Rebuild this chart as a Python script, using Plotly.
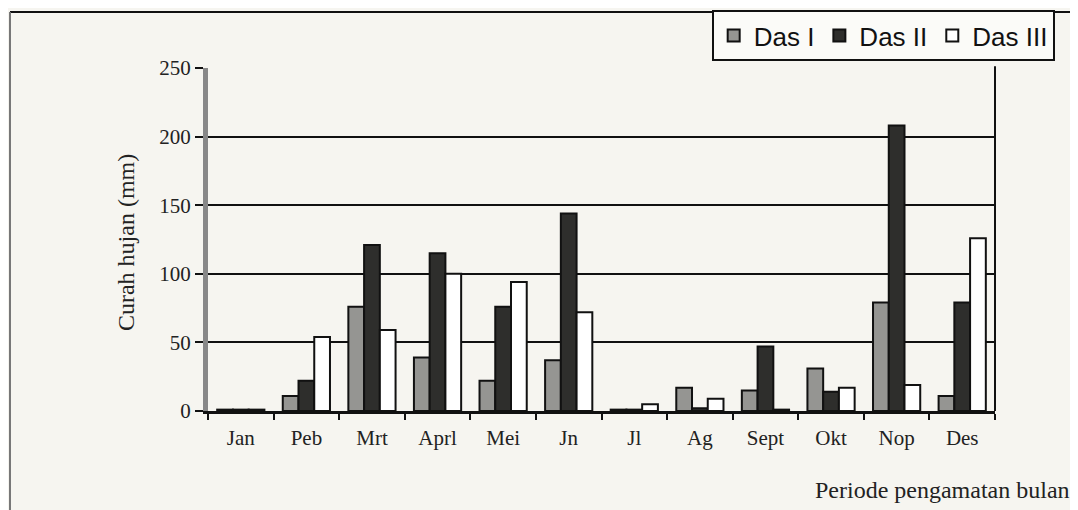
import plotly.graph_objects as go

month_labels = ["Jan", "Peb", "Mrt", "Aprl", "Mei", "Jn", "Jl", "Ag", "Sept", "Okt", "Nop", "Des"]
das1 = [1, 11, 76, 39, 22, 37, 1, 17, 15, 31, 79, 11]
das2 = [1, 22, 121, 115, 76, 144, 1, 2, 47, 14, 208, 79]
das3 = [1, 54, 59, 100, 94, 72, 5, 9, 1, 17, 19, 126]
y_ticks = [0, 50, 100, 150, 200, 250]

bg = "#f6f5f0"
fig = go.Figure()
fig.add_trace(go.Bar(name="Das I", x=month_labels, y=das1,
                     marker=dict(color="#959592", line=dict(color="#111", width=2))))
fig.add_trace(go.Bar(name="Das II", x=month_labels, y=das2,
                     marker=dict(color="#2e2e2c", line=dict(color="#111", width=2))))
fig.add_trace(go.Bar(name="Das III", x=month_labels, y=das3,
                     marker=dict(color="#ffffff", line=dict(color="#111", width=2))))

fig.update_layout(
    width=1070, height=502,
    margin=dict(l=200, r=83, t=60, b=99, autoexpand=False),
    paper_bgcolor=bg, plot_bgcolor=bg,
    barmode="group", bargap=0.28, bargroupgap=0.0,
    font=dict(family="Liberation Serif", color="#222", size=21),
    legend=dict(orientation="h", x=0.640, y=1.169, xanchor="left", yanchor="top",
                bgcolor="#fbfbf8", bordercolor="#111", borderwidth=2,
                font=dict(family="Liberation Sans", size=26, color="#111"),
                itemwidth=30, traceorder="normal"),
    showlegend=True,
)
fig.update_xaxes(type="category", tickson="boundaries", ticks="outside", ticklen=6,
                 tickcolor="#111", tickwidth=1.5, showline=True, linecolor="#111",
                 linewidth=3, showgrid=False, ticklabelstandoff=6,
                 tickfont=dict(family="Liberation Serif", size=21, color="#222"))
fig.update_yaxes(range=[0, 250], tickvals=y_ticks, ticks="outside", ticklen=8,
                 tickcolor="#111", tickwidth=2, showgrid=True, gridcolor="#111",
                 gridwidth=2, showline=True, linecolor="#888", linewidth=5,
                 zeroline=False,
                 tickfont=dict(family="Liberation Serif", size=21, color="#222"))

fig.add_annotation(text="Curah hujan (mm)", xref="paper", yref="paper",
                   x=-0.104, y=0.49, xanchor="center", yanchor="middle",
                   textangle=-90, showarrow=False,
                   font=dict(family="Liberation Serif", size=24, color="#222"))
fig.add_annotation(text="Periode pengamatan bulan", xref="paper", yref="paper",
                   x=1.098, y=-0.23, xanchor="right", yanchor="middle", showarrow=False,
                   font=dict(family="Liberation Serif", size=24, color="#222"))

# frame lines
fig.add_shape(type="line", xref="paper", yref="paper", x0=-0.2516, x1=1.11,
              y0=1.163, y1=1.163, line=dict(color="#111", width=2))
fig.add_shape(type="line", xref="paper", yref="paper", x0=-0.2516, x1=-0.2516,
              y0=-0.3, y1=1.163, line=dict(color="#777", width=2))
fig.add_shape(type="line", xref="paper", yref="paper", x0=1.0, x1=1.0,
              y0=0, y1=1.005, line=dict(color="#111", width=2))

fig.write_html("out.html")
